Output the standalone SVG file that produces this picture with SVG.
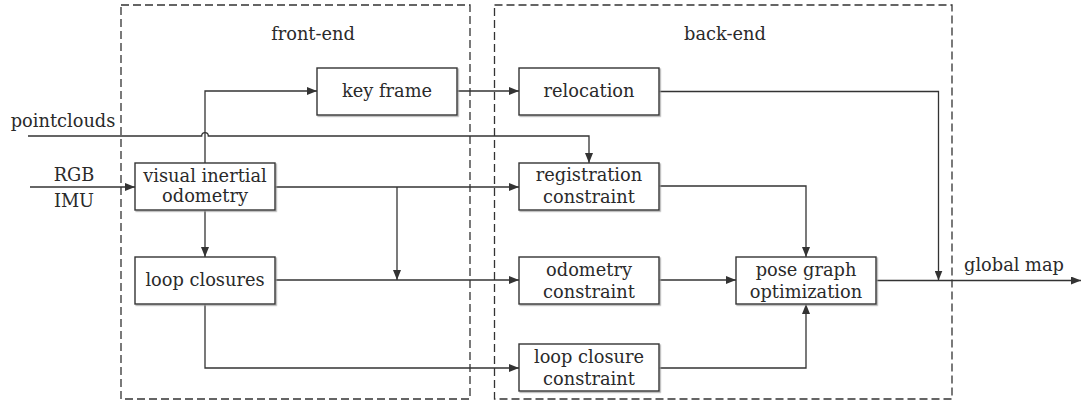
<svg xmlns="http://www.w3.org/2000/svg" width="1081" height="403" viewBox="0 0 1081 403">
<style>
.node rect{fill:#fff;stroke:#333;stroke-width:1.4;filter:url(#sh)}
text{font-family:"DejaVu Serif","Liberation Serif",serif;font-size:17.8px;fill:#2a2a2a;text-anchor:middle}
.c{fill:none;stroke:#333;stroke-width:1.3}
.a{marker-end:url(#arr)}
.grp{fill:none;stroke:#333;stroke-width:1.3;stroke-dasharray:8 4}
</style>
<defs>
<filter id="sh" x="-10%" y="-10%" width="130%" height="130%">
<feDropShadow dx="1.2" dy="1.2" stdDeviation="0.7" flood-color="#999" flood-opacity="0.8"/>
</filter>
<marker id="arr" viewBox="0 0 10 8" refX="10" refY="4" markerWidth="10" markerHeight="8" markerUnits="userSpaceOnUse" orient="auto">
<path d="M0,0 L10,4 L0,8 z" fill="#333"/>
</marker>
</defs>

<g id="front-end-group">
<rect class="grp" x="121" y="5" width="349" height="394"/>
<text x="313" y="40">front-end</text>
</g>
<g id="back-end-group">
<rect class="grp" x="494.5" y="5" width="457.5" height="394"/>
<text x="725" y="40">back-end</text>
</g>

<g id="connectors">
<path class="c a" d="M30,187 H135"/>
<path class="c a" d="M28,136 H201.7 A3.3,3.3 0 0 1 208.3,136 H589 V163"/>
<path class="c a" d="M205,163 V91 H317"/>
<path class="c a" d="M457,91 H519"/>
<path class="c a" d="M275,187 H519"/>
<path class="c a" d="M397,187 V280"/>
<path class="c a" d="M205,210 V257"/>
<path class="c a" d="M275,280 H519"/>
<path class="c a" d="M205,304 V368 H519"/>
<path class="c a" d="M659,280 H736"/>
<path class="c a" d="M659,186 H806 V257"/>
<path class="c a" d="M659,368 H806 V304"/>
<path class="c a" d="M659,91.5 H938.5 V280.5"/>
<path class="c a" d="M876,280.5 H1081"/>
</g>

<g id="labels">
<text x="74" y="181">RGB</text>
<text x="74" y="207">IMU</text>
<text x="63" y="127">pointclouds</text>
<text x="1014" y="271">global map</text>
</g>

<g id="key-frame" class="node">
<rect x="317" y="68" width="140" height="47"/>
<text x="387" y="97">key frame</text>
</g>
<g id="visual-inertial-odometry" class="node">
<rect x="135" y="163" width="140" height="47"/>
<text x="205" y="182">visual inertial</text>
<text x="205" y="202">odometry</text>
</g>
<g id="loop-closures" class="node">
<rect x="135" y="257" width="140" height="47"/>
<text x="205" y="286">loop closures</text>
</g>
<g id="relocation" class="node">
<rect x="519" y="68" width="140" height="47"/>
<text x="589" y="97">relocation</text>
</g>
<g id="registration-constraint" class="node">
<rect x="519" y="163" width="140" height="47"/>
<text x="589" y="181">registration</text>
<text x="589" y="203">constraint</text>
</g>
<g id="odometry-constraint" class="node">
<rect x="519" y="257" width="140" height="47"/>
<text x="589" y="276">odometry</text>
<text x="589" y="298">constraint</text>
</g>
<g id="loop-closure-constraint" class="node">
<rect x="519" y="344" width="140" height="47"/>
<text x="589" y="363">loop closure</text>
<text x="589" y="385">constraint</text>
</g>
<g id="pose-graph-optimization" class="node">
<rect x="736" y="257" width="140" height="47"/>
<text x="806" y="276">pose graph</text>
<text x="806" y="298">optimization</text>
</g>
</svg>
